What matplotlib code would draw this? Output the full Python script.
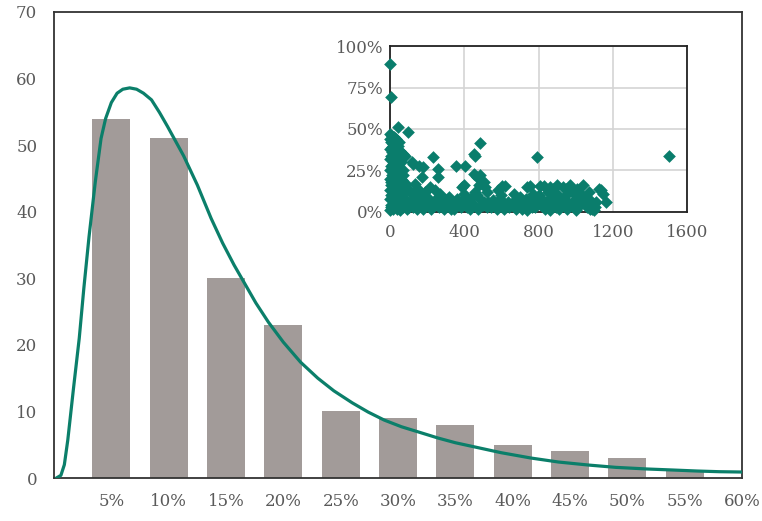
import matplotlib
matplotlib.use("Agg")
import matplotlib.pyplot as plt
from matplotlib.ticker import FixedLocator

# histogram of bins (percent) and counts
bin_centers = [5, 10, 15, 20, 25, 30, 35, 40, 45, 50, 55]
bin_counts = [54, 51, 30, 23, 10, 9, 8, 5, 4, 3, 1]
x_tick_values = [5, 10, 15, 20, 25, 30, 35, 40, 45, 50, 55, 60]
x_tick_labels = ["5%", "10%", "15%", "20%", "25%", "30%", "35%", "40%",
                 "45%", "50%", "55%", "60%"]
y_tick_values = [0, 10, 20, 30, 40, 50, 60, 70]

# fitted density curve, sampled points
fit_x = [0.2, 0.6, 0.9, 1.2, 1.7, 2.2, 2.6, 3.05, 3.6, 4.1, 4.5, 5.0, 5.5,
         6.0, 6.6, 7.2, 7.8, 8.5, 9.2, 9.9, 10.6, 11.3, 12.5, 13.7, 14.7,
         15.7, 16.6, 17.6, 18.7, 20.0, 21.5, 23.0, 24.4, 26.0, 27.4, 28.8,
         30.3, 32.0, 33.5, 35.0, 36.6, 39.0, 41.6, 44.0, 46.6, 49.0, 51.8,
         54.0, 56.1, 58.0, 60.0]
fit_y = [0.0, 0.4, 2.0, 5.7, 13.5, 21.0, 28.5, 36.2, 44.5, 51.0, 54.0, 56.4,
         57.8, 58.4, 58.6, 58.4, 57.8, 56.8, 54.9, 52.8, 50.6, 48.4, 44.0,
         39.0, 35.3, 32.0, 29.3, 26.3, 23.4, 20.4, 17.4, 15.0, 13.1, 11.3,
         9.9, 8.7, 7.7, 6.8, 6.0, 5.3, 4.7, 3.8, 3.0, 2.4, 1.95, 1.6, 1.35,
         1.2, 1.05, 0.95, 0.9]

# scatter inset: size vs share
inset_x = [0, 5, 45, 99,
           0, 10, 20, 30, 40, 50, 5, 15, 25, 0, 35, 55, 10, 20, 72, 81, 45,
           0, 15, 30, 60, 5, 25, 50, 0, 15, 35, 70, 10, 40, 55, 0, 20, 65,
           30, 5, 45, 85, 15, 0, 55, 25, 75, 95, 10, 40, 60, 0, 30, 80, 20,
           50, 5, 100, 35, 70, 15, 90, 0, 55,
           117, 126, 158, 180, 230, 256, 256, 171, 153, 120, 140, 110, 160,
           180, 200, 210, 230, 250, 270, 280, 290, 300, 190, 215, 135, 240,
           265, 170, 125,
           320, 340, 355, 405, 360, 380, 396, 387, 410, 420, 440, 450, 459,
           486, 450, 468, 486, 504, 513, 470, 490, 500, 520, 530, 545, 430,
           330, 460, 400, 480,
           560, 575, 590, 603, 621, 640, 660, 680, 700, 720, 738, 756, 760,
           780, 792, 800, 810, 828, 840, 850, 860, 870, 880, 890, 900, 910,
           920, 930, 940, 950, 960, 970, 980, 990, 1000, 1010, 1020, 1040,
           1050, 1060, 1080, 1090, 1100, 1110, 1125, 1134, 1161, 1150, 1070,
           1030, 950, 900, 860, 820, 770, 730, 700, 670, 620, 600, 580, 740,
           860, 1000,
           1503]
inset_y = [89, 69, 51, 48,
           47, 46, 45, 44, 43, 42, 42, 41, 40, 38, 38, 37, 36, 35, 35, 34, 33,
           32, 31, 30, 30, 28, 27, 27, 25, 24, 24, 25, 22, 22, 21, 20, 19, 19,
           17, 16, 16, 17, 14, 13, 13, 12, 12, 14, 10, 10, 9, 8, 7, 8, 5,
           5, 4, 5, 3, 3, 2, 2, 1, 1,
           30, 29, 28, 27, 33, 26, 21, 21, 14, 11, 8, 6, 4,
           2, 9, 6, 4, 8, 11, 5, 2, 7, 12, 15, 17, 13,
           3, 10, 3,
           9, 5, 27.5, 27.5, 8, 3, 16, 15, 6, 4, 9, 35, 34,
           41.6, 23, 21, 22, 18, 15, 10, 7, 4, 12, 6, 3, 2,
           2, 12, 11, 16,
           5, 2, 8, 15.5, 15.5, 3, 6, 2, 9, 4, 15, 15.5, 7,
           3, 33, 10, 15.5, 15.5, 6, 12, 3, 9, 14, 5, 11, 2,
           8, 15, 4, 10, 6, 16, 12, 3, 8, 14, 5, 16,
           9, 3, 7, 2, 1, 6, 14, 13.5, 6, 11, 12,
           11, 14, 16, 15, 8, 11, 8, 4, 11, 5, 10, 13, 1,
           1, 1,
           34]
# low-share band along the bottom of the inset
low_x = [8, 22, 38, 52, 66, 88, 105, 130, 148, 175,
         195, 222, 245, 262, 285, 310, 325, 345, 370, 392,
         415, 445, 475, 505, 525, 555, 585, 615, 635, 655,
         690, 712, 735, 765, 785, 815, 835, 855, 875, 895,
         915, 935, 955, 975, 995, 1015, 1035, 1055, 1075, 1095,
         1105]
low_y = [3, 6, 2, 7, 4, 6, 3, 5, 2, 7,
         4, 2, 5, 7, 3, 4, 6, 2, 5, 7,
         3, 5, 2, 6, 3, 7, 4, 2, 6, 4,
         7, 2, 5, 3, 6, 4, 2, 7, 5, 3,
         6, 4, 2, 5, 7, 3, 6, 4, 2, 5,
         3]
# extra small-size firms with high share
cluster_x = [2, 12, 28, 42, 58, 18, 33, 48, 8, 26,
             62, 38, 4, 22, 52, 14, 44, 68, 30, 6]
cluster_y = [44, 39, 36, 40, 33, 29, 26, 23, 18, 15,
             15, 12, 10, 8, 19, 20, 29, 22, 40, 34]
inset_x_ticks = [0, 400, 800, 1200, 1600]
inset_y_ticks = [0, 25, 50, 75, 100]
inset_y_labels = ["0%", "25%", "50%", "75%", "100%"]

bar_color = "#a29b99"
fit_color = "#0b7f6a"
dot_color = "#0a7d6c"
text_color = "#5a5a5a"
plt.rcParams["font.family"] = ["DejaVu Serif"]

fig = plt.figure(figsize=(7.62, 5.21), dpi=100)
ax = fig.add_axes([0.0709, 0.0825, 0.9029, 0.8945])

ax.bar(bin_centers, bin_counts, width=3.3, color=bar_color, zorder=2)
ax.plot(fit_x, fit_y, color=fit_color, linewidth=2.3, zorder=3,
        solid_capstyle="round", solid_joinstyle="round")

ax.set_xlim(0, 60)
ax.set_ylim(0, 70)
ax.set_xticks(x_tick_values)
ax.set_xticklabels(x_tick_labels)
ax.set_yticks(y_tick_values)
ax.tick_params(axis="both", length=0, labelsize=12, labelcolor=text_color)
ax.tick_params(axis="x", pad=11)
ax.tick_params(axis="y", pad=12)
for side in ["left", "bottom", "top", "right"]:
    ax.spines[side].set_color("#333333")
    ax.spines[side].set_linewidth(1.3)

# inset scatter
ins = fig.add_axes([0.5118, 0.5931, 0.3898, 0.3186])
for xs, ys in [(inset_x, inset_y), (low_x, low_y), (cluster_x, cluster_y)]:
    ins.scatter(xs, ys, marker="D", s=42, color=dot_color,
                linewidths=0, zorder=3, clip_on=False)
ins.set_xlim(0, 1600)
ins.set_ylim(0, 100)
ins.xaxis.set_major_locator(FixedLocator(inset_x_ticks))
ins.set_yticks(inset_y_ticks)
ins.set_yticklabels(inset_y_labels)
ins.grid(True, color="#d4d4d4", linewidth=1.2, zorder=0)
ins.set_axisbelow(True)
ins.tick_params(axis="both", length=0, labelsize=12, labelcolor=text_color)
ins.tick_params(axis="x", pad=9)
ins.tick_params(axis="y", pad=5)
for side in ["left", "bottom", "top", "right"]:
    ins.spines[side].set_color("#222222")
    ins.spines[side].set_linewidth(1.3)

fig.savefig("out.png", dpi=100)
